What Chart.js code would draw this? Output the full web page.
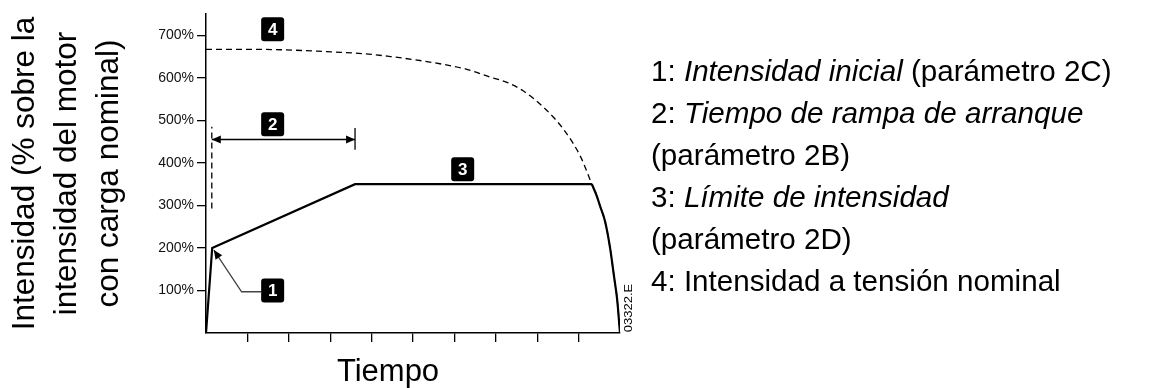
<!DOCTYPE html>
<html>
<head>
<meta charset="utf-8">
<script src="https://cdn.jsdelivr.net/npm/chart.js@4.4.1/dist/chart.umd.min.js"></script>
<style>
  body { margin: 0; background: #fff; width: 1158px; height: 388px; overflow: hidden; font-family: "Liberation Sans", Arial, sans-serif; }
  #wrap { position: absolute; left: 0; top: 0; width: 1158px; height: 388px; }
  #notes { position: absolute; left: 651px; top: 50px; font-size: 29.6px; line-height: 42px; color: #000; white-space: nowrap; }
</style>
</head>
<body>
<div id="wrap"><canvas id="chart"></canvas></div>
<div id="notes">
  <div>1: <i>Intensidad inicial</i> (parámetro 2C)</div>
  <div>2: <i>Tiempo de rampa de arranque</i></div>
  <div>(parámetro 2B)</div>
  <div>3: <i>Límite de intensidad</i></div>
  <div>(parámetro 2D)</div>
  <div>4: Intensidad a tensión nominal</div>
</div>
<script>
// curva de arranque suave (linea continua): rampa + limite, luego caida
const tiempoRampa = [0, 0.15, 3.6, 9.32];
const intensidadRampa = [0, 200, 350, 350];
const tiempoCaida = [9.32, 9.44, 9.52, 9.64, 9.76, 9.86, 9.93, 10];
const intensidadCaida = [350, 322, 298, 262, 200, 130, 80, 0];

// intensidad a tension nominal (linea discontinua)
const tiempoDol = [0, 1, 1.8, 2.6, 3.25, 4, 4.45, 5, 5.65, 6.3, 6.85, 7.3, 7.65, 8.15, 8.65, 9.05, 9.32, 9.44, 9.52, 9.64, 9.76, 9.86, 9.93, 10];
const intensidadDol = [667, 667, 666, 663, 660, 655, 650, 643, 633, 620, 602, 588, 570, 531, 477, 414, 350, 322, 298, 262, 200, 130, 80, 0];

const yTicks = [100, 200, 300, 400, 500, 600, 700];
const xTicks = [1, 2, 3, 4, 5, 6, 7, 8, 9];

// anotaciones (en unidades de los ejes)
const rampaInicio = 0.14;
const rampaFin = 3.6;
const rampaNivel = 455;
const marcaInicio = [293, 485];
const marcaFin = [431, 482];
const flecha1X = [1.33, 0.86, 0.19];
const flecha1Y = [97, 97, 195];
const etiquetas = ['1', '2', '3', '4'];
const etiquetaX = [1.61, 1.61, 6.2, 1.61];
const etiquetaY = [100, 491, 385, 714];

function pts(xs, ys) {
    return xs.map((x, i) => ({ x: x, y: ys[i] }));
}

function arrowHead(ctx, x, y, dx, dy) {
    const len = Math.hypot(dx, dy);
    const ux = dx / len, uy = dy / len;
    const L = 9, W = 4;
    ctx.beginPath();
    ctx.moveTo(x, y);
    ctx.lineTo(x - ux * L - uy * W, y - uy * L + ux * W);
    ctx.lineTo(x - ux * L + uy * W, y - uy * L - ux * W);
    ctx.closePath();
    ctx.fill();
}

const extras = {
    id: 'extras',
    afterDatasetsDraw(chart) {
        const ctx = chart.ctx;
        const xs = chart.scales.x, ys = chart.scales.y;
        ctx.save();
        ctx.fillStyle = '#000';

        // puntas de la flecha de la rampa
        const ry = ys.getPixelForValue(rampaNivel);
        const rx0 = xs.getPixelForValue(rampaInicio), rx1 = xs.getPixelForValue(rampaFin);
        arrowHead(ctx, rx0, ry, -1, 0);
        arrowHead(ctx, rx1, ry, 1, 0);

        // punta de la flecha 1
        const ax = xs.getPixelForValue(flecha1X[2]), ay = ys.getPixelForValue(flecha1Y[2]);
        const bx = xs.getPixelForValue(flecha1X[1]), by = ys.getPixelForValue(flecha1Y[1]);
        arrowHead(ctx, ax, ay, ax - bx, ay - by);

        // cajas numeradas
        ctx.font = 'bold 17px "Liberation Sans", Arial, sans-serif';
        ctx.textAlign = 'center';
        ctx.textBaseline = 'middle';
        etiquetas.forEach((t, i) => {
            const cx = xs.getPixelForValue(etiquetaX[i]);
            const cy = ys.getPixelForValue(etiquetaY[i]);
            ctx.fillStyle = '#000';
            ctx.beginPath();
            ctx.roundRect(cx - 11.5, cy - 12, 23, 24, 3);
            ctx.fill();
            ctx.fillStyle = '#fff';
            ctx.fillText(t, cx, cy + 1);
        });

        // titulo del eje x
        ctx.fillStyle = '#000';
        ctx.font = '31px "Liberation Sans", Arial, sans-serif';
        ctx.textBaseline = 'alphabetic';
        ctx.fillText('Tiempo', 388, 381);

        // referencia del dibujo
        ctx.translate(629, 308);
        ctx.rotate(-Math.PI / 2);
        ctx.scale(1, 0.8);
        ctx.font = '13px "Liberation Sans", Arial, sans-serif';
        ctx.textBaseline = 'middle';
        ctx.fillText('03322.E', 0, 0);
        ctx.restore();
    }
};

const canvas = document.getElementById('chart');

const chart = new Chart(canvas, {
    type: 'line',
    data: {
        datasets: [
            {
                data: pts(tiempoRampa, intensidadRampa),
                borderColor: '#000',
                borderWidth: 2.2,
                pointRadius: 0,
                tension: 0
            },
            {
                data: pts(tiempoCaida, intensidadCaida),
                borderColor: '#000',
                borderWidth: 2.2,
                pointRadius: 0,
                cubicInterpolationMode: 'monotone'
            },
            {
                data: pts(tiempoDol, intensidadDol),
                borderColor: '#000',
                borderWidth: 1.3,
                borderDash: [6, 4],
                pointRadius: 0,
                cubicInterpolationMode: 'monotone'
            },
            {
                data: pts([rampaInicio, rampaInicio], marcaInicio),
                borderColor: '#000',
                borderWidth: 1.3,
                borderDash: [6, 4],
                pointRadius: 0
            },
            {
                data: pts([rampaInicio, rampaFin], [rampaNivel, rampaNivel]),
                borderColor: '#000',
                borderWidth: 1.5,
                pointRadius: 0
            },
            {
                data: pts([rampaFin, rampaFin], marcaFin),
                borderColor: '#000',
                borderWidth: 1.3,
                pointRadius: 0
            },
            {
                data: pts(flecha1X, flecha1Y),
                borderColor: '#444',
                borderWidth: 1.3,
                pointRadius: 0,
                tension: 0
            }
        ]
    },
    options: {
        responsive: true,
        maintainAspectRatio: false,
        animation: false,
        layout: { padding: { left: 0, top: 14, right: 538, bottom: 0 } },
        plugins: {
            legend: { display: false },
            tooltip: { enabled: false }
        },
        scales: {
            x: {
                type: 'linear',
                min: 0,
                max: 10,
                ticks: { stepSize: 1, display: false },
                grid: {
                    drawOnChartArea: false,
                    drawTicks: true,
                    tickLength: 9,
                    lineWidth: 1.3,
                    color: (c) => xTicks.includes(c.tick.value) ? '#000' : 'rgba(0,0,0,0)'
                },
                border: { color: '#000', width: 1.5 },
                afterFit: (s) => { s.height = 55; }
            },
            y: {
                type: 'linear',
                min: 0,
                max: 750,
                ticks: {
                    stepSize: 100,
                    padding: 3,
                    color: '#111',
                    font: { family: '"Liberation Sans", Arial, sans-serif', size: 14 },
                    callback: (v) => yTicks.includes(v) ? v + '%' : ''
                },
                grid: {
                    drawOnChartArea: false,
                    drawTicks: true,
                    tickLength: 9,
                    lineWidth: 1.3,
                    color: (c) => yTicks.includes(c.tick.value) ? '#000' : 'rgba(0,0,0,0)'
                },
                border: { color: '#000', width: 1.5 },
                title: {
                    display: true,
                    text: ['Intensidad (% sobre la', 'intensidad del motor', 'con carga nominal)'],
                    color: '#000',
                    font: { family: '"Liberation Sans", Arial, sans-serif', size: 31.5, lineHeight: 1.333 },
                    padding: { top: 4, bottom: 0 }
                },
                afterFit: (s) => { s.width = 206; }
            }
        }
    },
    plugins: [extras]
});
</script>
</body>
</html>
